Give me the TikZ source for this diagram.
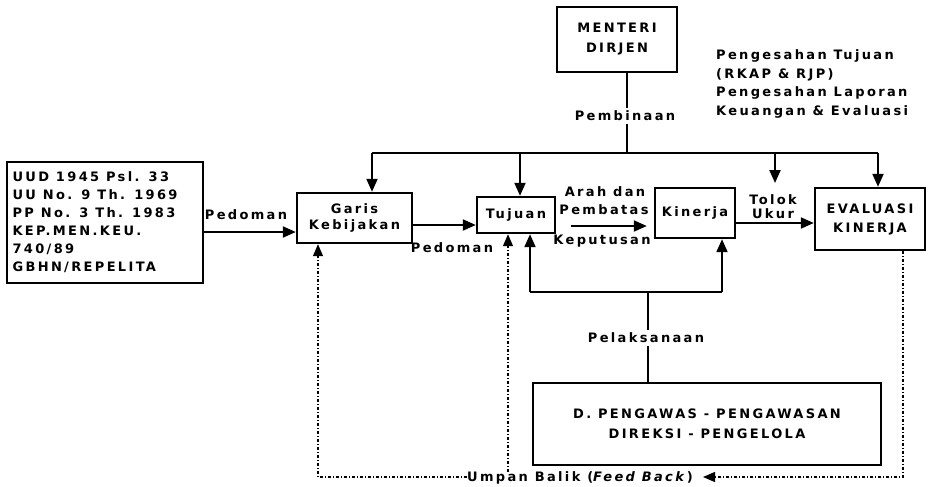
\documentclass[tikz,border=0pt]{standalone}
\usepackage{fontspec}
\setmainfont{DejaVu Sans}[LetterSpace=18]
\usetikzlibrary{arrows.meta,calc}
\begin{document}
\begin{tikzpicture}[x=1pt,y=-1pt,
  every node/.style={font=\fontsize{13}{18}\selectfont\bfseries, inner sep=0pt},
  box/.style={draw, line width=2.4pt, align=center},
  wire/.style={line width=2.1pt},
  arr/.style={line width=2.1pt, -{Triangle[length=13pt,width=11pt]}},
  fb/.style={line width=1.3pt, dash pattern=on 3pt off 2pt on 1pt off 2pt},
  fbarr/.style={fb, -{Triangle[length=12pt,width=10pt]}},
  lbl/.style={fill=white, inner xsep=1pt, inner ysep=3pt}]
\useasboundingbox (0,0) rectangle (929,487);

% boxes
\node[box, minimum width=196pt, minimum height=121pt] (law) at (105,222.5)
  {\begin{tabular}{@{}l@{}}UUD 1945 Psl. 33\\UU No. 9 Th. 1969\\PP No. 3 Th. 1983\\KEP.MEN.KEU.\\740/89\\GBHN/REPELITA\end{tabular}\hspace*{20pt}};
\node[box, minimum width=115pt, minimum height=50pt, font=\fontsize{13}{16}\selectfont\bfseries] (garis) at (354.5,218) {Garis\\Kebijakan};
\node[box, minimum width=78pt, minimum height=36pt] (tujuan) at (516,215) {Tujuan};
\node[box, minimum width=80pt, minimum height=50pt] (kinerja) at (695,213) {Kinerja};
\node[box, minimum width=110pt, minimum height=62pt, font=\fontsize{13}{19}\selectfont\bfseries] (evaluasi) at (870,219) {EVALUASI\\KINERJA};
\node[box, minimum width=120pt, minimum height=65pt, font=\fontsize{13}{20}\selectfont\bfseries] (menteri) at (617,39.5) {MENTERI\\DIRJEN};
\node[box, minimum width=348pt, minimum height=82pt, font=\fontsize{13}{20}\selectfont\bfseries] (pengawas) at (707,424)
  {D. PENGAWAS - PENGAWASAN\\DIREKSI - PENGELOLA};

% right text block
\node[anchor=west, align=left, font=\fontsize{13}{18.7}\selectfont\bfseries] (sah) at (716,84)
  {Pengesahan Tujuan\\(RKAP \& RJP)\\Pengesahan Laporan\\Keuangan \& Evaluasi};

% top bus
\coordinate (b1) at (372,153);
\coordinate (b2) at (520,153);
\coordinate (pj) at (627,153);
\coordinate (b3) at (775,153);
\coordinate (b4) at (878,153);
\coordinate (tu) at (775,183);
\draw[wire] (menteri.south -| pj) -- (pj);
\node[lbl] (lpemb) at (625,116) {Pembinaan};
\draw[wire] (b1) -- (b4);
\draw[arr] (b1) -- (b1 |- garis.north);
\draw[arr] (b2) -- (b2 |- tujuan.north);
\draw[arr] (b3) -- (tu);
\draw[arr] (b4) -- (b4 |- evaluasi.north);

% horizontal flow
\coordinate (ya) at (0,232);
\draw[arr] (law.east |- ya) -- (garis.west |- ya);
\node (lped1) at (246,215) {Pedoman};
\coordinate (yb) at (0,225);
\draw[arr] (garis.east |- yb) -- (tujuan.west |- yb);
\node (lped2) at (452,248) {Pedoman};
\coordinate (yc) at (0,226);
\draw[arr, shorten <=15pt, shorten >=7pt] (tujuan.east |- yc) -- (kinerja.west |- yc);
\node (larah) at (605,192) {Arah dan};
\node (lpemb2) at (604,210) {Pembatas};
\node (lkep) at (602,241) {Keputusan};
\coordinate (yd) at (0,223);
\draw[arr] (kinerja.east |- yd) -- (evaluasi.west |- yd);
\node (ltolok) at (773,200) {Tolok};
\node (lukur) at (773,214) {Ukur};

% pelaksanaan
\coordinate (jl) at (530,292);
\coordinate (jr) at (722,292);
\coordinate (jp) at (648,292);
\draw[wire] (jl) -- (jr);
\draw[arr] (jl) -- (jl |- tujuan.south);
\draw[arr] (jr) -- (jr |- kinerja.south);
\draw[wire] (pengawas.north -| jp) -- (jp);
\node[lbl] (lpel) at (646,338) {Pelaksanaan};

% feedback
\coordinate (fr) at (903,477);
\coordinate (fa) at (703,477);
\coordinate (fl) at (318,477);
\coordinate (fm) at (508,477);
\node (lfb) at (580,478) {Umpan Balik (\textit{Feed Back})};
\draw[fbarr] (evaluasi.south -| fr) -- (fr) -- (fa);
\draw[fbarr] (lfb.west |- fl) -- (fl) -- (fl |- garis.south);
\draw[fbarr] (lfb.north -| fm) -- (fm |- tujuan.south);
\end{tikzpicture}
\end{document}
